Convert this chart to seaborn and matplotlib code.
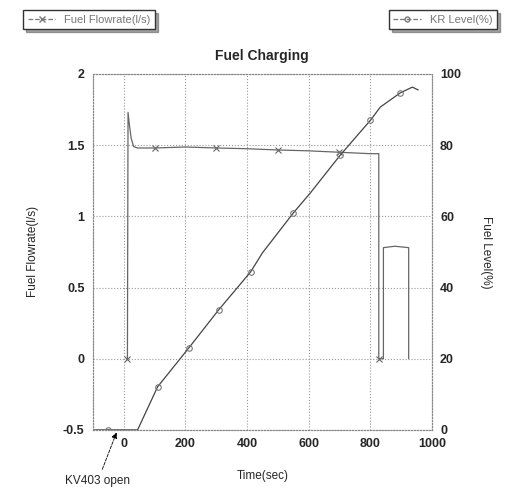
import matplotlib
matplotlib.use("Agg")
import matplotlib.pyplot as plt
import seaborn as sns
import pandas as pd
from matplotlib.lines import Line2D

sns.set_style("white")
plt.rcParams['font.family'] = ['Liberation Sans', 'DejaVu Sans']

# Fuel flowrate (l/s), left axis
flow_t = [12, 14, 18, 24, 32, 45, 100, 200, 300, 400, 500, 600, 700, 800, 828, 828, 843, 843, 880, 925, 925]
flow_v = [0.0, 1.73, 1.65, 1.55, 1.49, 1.48, 1.48, 1.487, 1.48, 1.475, 1.466, 1.46, 1.45, 1.44, 1.44, 0.0, 0.0, 0.78, 0.79, 0.78, 0.0]

# KR level (%), right axis
level_t = [-100, -50, 0, 45, 110, 211, 308, 412, 450, 551, 606, 703, 801, 833, 898, 937, 956]
level_v = [0.0, 0.0, 0.0, 0.0, 12.1, 23.0, 33.7, 44.4, 49.7, 61.0, 66.6, 77.2, 87.0, 90.7, 94.7, 96.3, 95.5]

x_ticks = [0, 200, 400, 600, 800, 1000]
left_ticks = [-0.5, 0, 0.5, 1, 1.5, 2]
left_labels = ["-0.5", "0", "0.5", "1", "1.5", "2"]
right_ticks = [0, 20, 40, 60, 80, 100]

flow_df = pd.DataFrame({"t": flow_t, "v": flow_v})
level_df = pd.DataFrame({"t": level_t, "v": level_v})

fig = plt.figure(figsize=(5.05, 4.93), dpi=100)
ax = fig.add_axes([0.184, 0.128, 0.671, 0.722])
ax2 = ax.twinx()

sns.lineplot(data=flow_df, x="t", y="v", ax=ax, estimator=None, sort=False,
             color="#666666", lw=0.9, marker="x", markersize=4.5, mec="#666666", mew=0.8,
             markevery=[0, 6, 8, 10, 12, 15])
sns.lineplot(data=level_df, x="t", y="v", ax=ax2, estimator=None, sort=False,
             color="#444444", lw=0.9, marker="o", markersize=4, mfc="none", mec="#777777", mew=0.8,
             markevery=[1, 4, 5, 6, 7, 9, 11, 12, 14])

ax.set_xlim(-100, 1000)
ax.set_ylim(-0.5, 2)
ax2.set_ylim(0, 100)
ax.set_xticks(x_ticks)
ax.set_xticklabels([str(v) for v in x_ticks])
ax.set_yticks(left_ticks)
ax.set_yticklabels(left_labels)
ax2.set_yticks(right_ticks)
ax2.set_yticklabels([str(v) for v in right_ticks])

ax.grid(True, color="#999999", linestyle=":", linewidth=0.8)
for a in (ax, ax2):
    for s in a.spines.values():
        s.set_linestyle(":")
        s.set_color("#888888")
    a.tick_params(length=0, labelsize=9, pad=6)
    for lab in a.get_xticklabels() + a.get_yticklabels():
        lab.set_fontweight("bold")

ax.set_xlabel("Time(sec)", fontsize=8.5, labelpad=14)
ax.set_ylabel("Fuel Flowrate(l/s)", fontsize=8.5, labelpad=17)
ax2.set_ylabel("Fuel Level(%)", fontsize=8.5, rotation=270, labelpad=22)
ax.set_title("Fuel Charging", fontsize=10, fontweight="bold", pad=10)

ax.annotate("KV403 open", xy=(-20, -0.5), xytext=(-190, -0.86),
            xycoords="data", textcoords="data", annotation_clip=False,
            fontsize=8.5, ha="left", va="center",
            arrowprops=dict(arrowstyle="-|>", color="black", lw=0.6, ls="--"))

h1 = [Line2D([0], [0], color="#777777", lw=0.9, ls="--", marker="x", markersize=4)]
h2 = [Line2D([0], [0], color="#777777", lw=0.9, ls="--", marker="o", markersize=3.5, mfc="none")]
leg1 = fig.legend(h1, ["Fuel Flowrate(l/s)"], loc="upper left", bbox_to_anchor=(0.035, 0.99),
                  fancybox=False, shadow=True, fontsize=8, edgecolor="#333333", handlelength=2.5)
leg2 = fig.legend(h2, ["KR Level(%)"], loc="upper right", bbox_to_anchor=(0.995, 0.99),
                  fancybox=False, shadow=True, fontsize=8, edgecolor="#333333", handlelength=2.5)
for leg in (leg1, leg2):
    for t in leg.get_texts():
        t.set_color("#777777")

fig.savefig("out.png", dpi=100)
